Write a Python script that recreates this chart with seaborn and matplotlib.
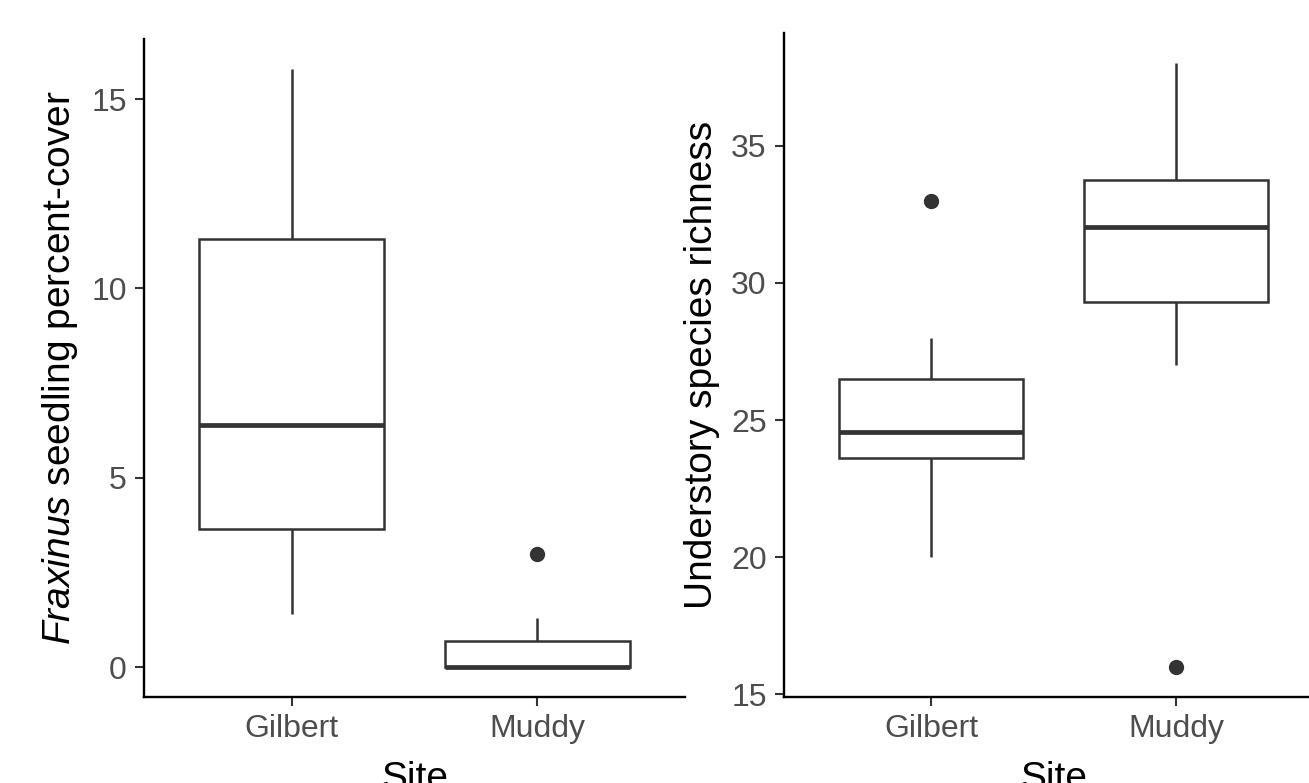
import numpy as np
import pandas as pd
import matplotlib
matplotlib.use("Agg")
import matplotlib.pyplot as plt
import seaborn as sns

# ---- data ----
sites = ["Gilbert", "Muddy"]
fraxinus_gilbert = [1.4, 3.65, 6.4, 11.3, 15.8]
fraxinus_muddy = [0.0, 0.0, 0.0, 0.0, 0.0, 0.4, 0.68, 1.3, 3.0]
richness_gilbert = [20.0, 23.0, 23.6, 24.0, 24.55, 25.5, 26.5, 28.0, 33.0]
richness_muddy = [16.0, 27.0, 29.3, 31.0, 32.05, 33.0, 33.75, 35.0, 38.0]
left_ticks = [0, 5, 10, 15]
right_ticks = [15, 20, 25, 30, 35]

df_left = pd.DataFrame({
    "Site": [sites[0]] * len(fraxinus_gilbert) + [sites[1]] * len(fraxinus_muddy),
    "value": fraxinus_gilbert + fraxinus_muddy,
})
df_right = pd.DataFrame({
    "Site": [sites[0]] * len(richness_gilbert) + [sites[1]] * len(richness_muddy),
    "value": richness_gilbert + richness_muddy,
})

sns.set_style("ticks")
plt.rcParams["font.family"] = ["Liberation Sans", "DejaVu Sans"]
plt.rcParams["mathtext.fontset"] = "custom"
plt.rcParams["mathtext.it"] = "Liberation Sans:italic"
plt.rcParams["mathtext.rm"] = "Liberation Sans"

W, H = 1309, 783
fig = plt.figure(figsize=(W / 100, H / 100), dpi=100)
ax1 = fig.add_axes([144 / W, (H - 697) / H, 541 / W, 658 / H])
ax2 = fig.add_axes([784 / W, (H - 697) / H, 539 / W, 663.7 / H])

grey = "#333333"
box_kw = dict(
    x="Site", y="value", order=sites, color="white", saturation=1,
    width=0.75, linecolor=grey, linewidth=1.8, showcaps=False,
    medianprops=dict(color=grey, linewidth=3.4),
    flierprops=dict(marker="o", markersize=10, markerfacecolor=grey,
                    markeredgecolor=grey),
)

for ax, df, ticks, ylabel in [
    (ax1, df_left, left_ticks, r"$\it{Fraxinus}$ seedling percent-cover"),
    (ax2, df_right, right_ticks, "Understory species richness"),
]:
    sns.boxplot(data=df, ax=ax, **box_kw)
    lo, hi = df["value"].min(), df["value"].max()
    r = hi - lo
    ax.set_ylim(lo - 0.05 * r, hi + 0.05 * r)
    ax.set_xlim(-0.6, 1.6)
    ax.set_yticks(ticks)
    ax.set_ylabel(ylabel, fontsize=28, color="black", labelpad=8)
    ax.set_xlabel("Site", fontsize=28, color="black", labelpad=12)
    for s in ["top", "right"]:
        ax.spines[s].set_visible(False)
    for s in ["left", "bottom"]:
        ax.spines[s].set_color("black")
        ax.spines[s].set_linewidth(1.7)
    ax.tick_params(axis="both", length=6.5, width=1.5, color=grey,
                   labelsize=23, labelcolor="#4D4D4D", pad=6)
    ax.set_facecolor("white")

fig.savefig("out.png", dpi=100, facecolor="white")
